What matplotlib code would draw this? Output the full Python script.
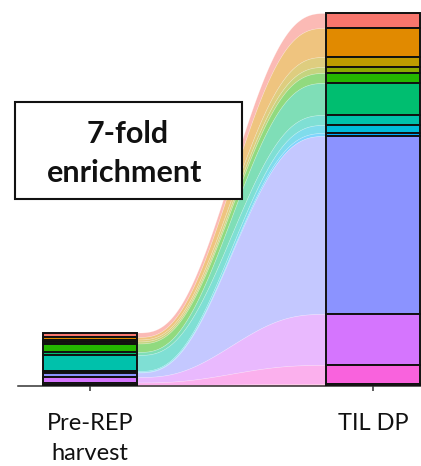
import numpy as np
import matplotlib
matplotlib.use("Agg")
import matplotlib.pyplot as plt
from matplotlib.patches import Rectangle

# ---- data ----
stages = ["Pre-REP\nharvest", "TIL DP"]
clones = ["C1", "C2", "C3", "C4", "C5", "C6", "C7", "C8", "C9", "C10", "C11", "C12", "C13"]
colors = ["#F8766D", "#E18A00", "#BE9C00", "#8CAB00", "#24B700", "#00BE70", "#00C1AB",
          "#00BBDA", "#00ACFC", "#8B93FF", "#D575FE", "#F962DD", "#FF65AC"]
pre_rep = [4.5, 2.5, 2.0, 2.0, 8.5, 3.0, 16.0, 1.0, 0.5, 4.5, 5.5, 2.5, 1.0]
til_dp = [15, 29, 10, 6, 10, 32, 10, 8, 3, 178, 51, 19, 2]
box_text = ["7-fold", "enrichment"]

plt.rcParams['font.family'] = ['Lato', 'DejaVu Sans']

W, H = 421, 466
fig = plt.figure(figsize=(W / 100, H / 100), dpi=100)
ax = fig.add_axes([18 / W, 80 / H, (W - 18) / W, 386 / H])
ax.set_xlim(-0.2544, 1.1696)
ax.set_ylim(0, 386)

bar_w = 0.33
half = bar_w / 2


def stack(vals):
    vals = np.asarray(vals, float)
    tops = np.cumsum(vals[::-1])[::-1]
    bots = tops - vals
    return bots, tops


lb, lt = stack(pre_rep)
rb, rt = stack(til_dp)

# flows
x0, x1 = 0 + half, 1 - half
xs = np.linspace(x0, x1, 200)
t = (xs - x0) / (x1 - x0)
s = 6 * t**5 - 15 * t**4 + 10 * t**3
for i, c in enumerate(colors):
    yb = lb[i] + (rb[i] - lb[i]) * s
    yt = lt[i] + (rt[i] - lt[i]) * s
    ax.fill_between(xs, yb, yt, facecolor=matplotlib.colors.to_rgba(c, 0.5),
                    edgecolor=(1, 1, 1, 0.35), linewidth=0.4, zorder=1)

# bars
for xpos, vals in [(0, pre_rep), (1, til_dp)]:
    bots, tops = stack(vals)
    ax.bar([xpos] * len(vals), np.asarray(vals), bottom=bots, width=bar_w,
           color=colors, edgecolor="#111111", linewidth=1.4, zorder=3)

for sp in ["top", "right", "left"]:
    ax.spines[sp].set_visible(False)
ax.spines["bottom"].set_color("#333333")
ax.spines["bottom"].set_linewidth(1.1)
ax.set_yticks([])
ax.set_xticks([0, 1])
ax.set_xticklabels(stages, fontsize=17, color="#111111", linespacing=1.5)
ax.tick_params(axis="x", length=3.5, width=1.1, color="#333333", pad=16)
ax.patch.set_alpha(0)

# annotation box
fig.patches.append(Rectangle((15 / W, (H - 199) / H), 227 / W, 97 / H,
                             transform=fig.transFigure, facecolor="white",
                             edgecolor="#111111", linewidth=1.5, zorder=5))
fig.text(128 / W, (H - 143) / H, box_text[0], ha="center", va="baseline",
         fontsize=22, fontweight="bold", color="#111111", zorder=6)
fig.text(125 / W, (H - 182) / H, box_text[1], ha="center", va="baseline",
         fontsize=22, fontweight="bold", color="#111111", zorder=6)

fig.savefig("out.png", dpi=100)
